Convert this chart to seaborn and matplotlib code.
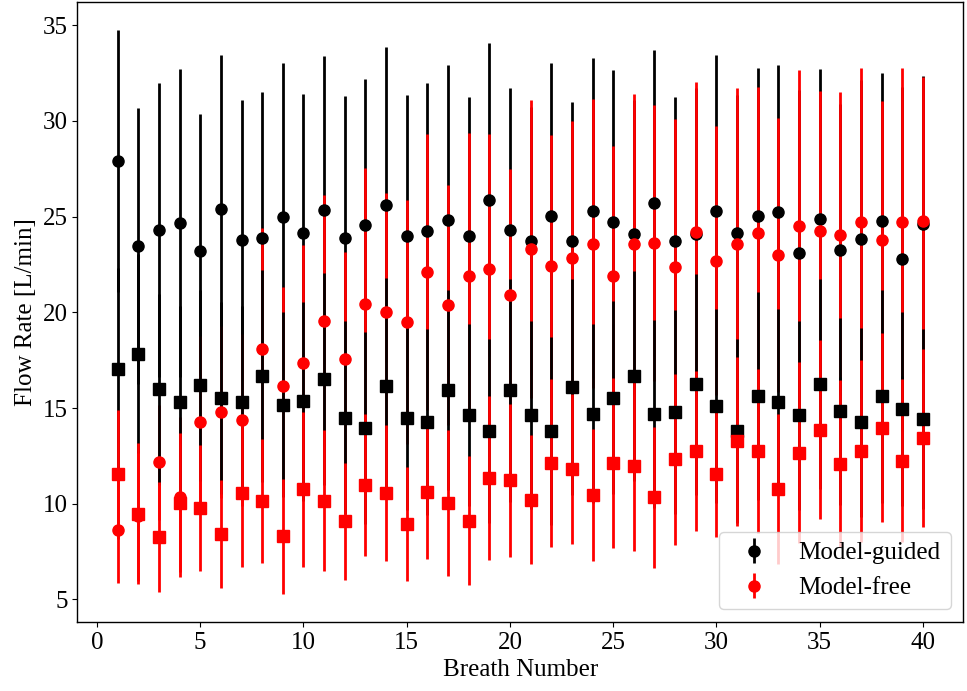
import matplotlib
matplotlib.use("Agg")
import matplotlib.pyplot as plt
import seaborn as sns

# breath index
breath = list(range(1, 41))

# model-guided, circles (mean and SD)
guided_circle = [27.90, 23.47, 24.29, 24.67, 23.23, 25.39, 23.77, 23.91, 24.97, 24.17,
                 25.35, 23.86, 24.57, 25.63, 24.01, 24.24, 24.80, 23.99, 25.89, 24.29,
                 23.75, 25.06, 23.73, 25.30, 24.72, 24.10, 25.72, 23.75, 24.12, 25.32,
                 24.15, 25.02, 25.23, 23.10, 24.90, 23.28, 23.84, 24.78, 22.79, 24.60]
guided_circle_sd = [6.84, 7.21, 7.67, 8.04, 7.14, 8.05, 7.35, 7.58, 8.05, 7.26,
                    8.03, 7.45, 7.61, 8.23, 7.35, 7.73, 8.10, 7.27, 8.16, 7.41,
                    7.00, 7.99, 7.28, 8.01, 7.93, 7.00, 8.01, 7.51, 7.60, 8.15,
                    7.20, 7.77, 7.68, 8.50, 7.84, 7.60, 8.30, 7.73, 9.00, 7.77]

# model-guided, squares
guided_square = [17.06, 17.84, 15.98, 15.31, 16.19, 15.52, 15.31, 16.66, 15.18, 15.35,
                 16.52, 14.50, 13.95, 16.17, 14.50, 14.27, 15.93, 14.65, 13.80, 15.93,
                 14.62, 13.80, 16.10, 14.71, 15.54, 16.66, 14.67, 14.79, 16.24, 15.11,
                 13.80, 15.63, 15.31, 14.62, 16.24, 14.84, 14.25, 15.61, 14.95, 14.45]
guided_square_sd = [5.24, 5.20, 5.00, 5.00, 5.00, 5.00, 5.00, 5.54, 4.84, 5.19,
                    5.54, 5.05, 5.02, 5.63, 4.80, 4.88, 5.22, 4.76, 4.83, 5.83,
                    4.91, 4.91, 5.63, 4.67, 5.04, 5.49, 4.91, 5.32, 5.79, 5.05,
                    4.83, 5.42, 4.85, 4.95, 5.49, 4.89, 4.95, 5.58, 5.07, 4.70]

# model-free, circles
free_circle = [8.61, 9.34, 12.16, 10.35, 14.27, 14.81, 14.36, 18.10, 16.15, 17.34,
               19.57, 17.58, 20.46, 20.00, 19.50, 22.11, 20.38, 21.88, 22.27, 20.89,
               23.30, 22.42, 22.86, 23.59, 21.90, 23.56, 23.63, 22.39, 24.22, 22.70,
               23.59, 24.13, 23.00, 24.53, 24.25, 24.06, 24.72, 23.78, 24.72, 24.76]
free_circle_sd = [2.74, 3.40, 3.00, 4.20, 4.50, 4.50, 4.50, 6.31, 5.18, 6.20,
                  6.55, 5.58, 7.09, 6.24, 6.36, 7.23, 6.26, 7.50, 7.06, 6.59,
                  7.78, 6.84, 7.13, 7.56, 6.80, 7.87, 7.19, 7.72, 7.82, 7.03,
                  8.14, 7.63, 7.18, 8.11, 7.31, 7.44, 8.04, 7.25, 8.07, 7.53]

# model-free, squares
free_square = [11.54, 9.48, 8.26, 10.05, 9.77, 8.41, 10.58, 10.14, 8.30, 10.75,
               10.16, 9.08, 11.00, 10.56, 8.94, 10.60, 10.03, 9.11, 11.34, 11.22,
               10.21, 12.14, 11.83, 10.47, 12.13, 11.95, 10.33, 12.32, 12.75, 11.53,
               13.26, 12.75, 10.79, 12.67, 13.87, 12.09, 12.74, 13.98, 12.25, 13.45]
free_square_sd = [3.36, 3.69, 2.87, 3.64, 3.28, 2.81, 3.90, 3.26, 3.00, 4.04,
                  3.67, 3.05, 3.71, 3.54, 2.98, 3.50, 3.80, 3.37, 4.30, 4.00,
                  3.36, 4.40, 3.92, 3.45, 4.46, 4.41, 3.68, 4.48, 4.17, 3.26,
                  4.41, 4.27, 3.92, 4.73, 4.67, 4.36, 4.75, 4.94, 4.25, 4.65]

sns.set_theme(style="ticks", rc={
    "axes.edgecolor": "black",
    "axes.labelcolor": "black",
    "axes.linewidth": 1.0,
    "text.color": "black",
    "xtick.color": "black",
    "ytick.color": "black",
    "xtick.major.size": 3.5,
    "ytick.major.size": 3.5,
    "xtick.major.width": 0.8,
    "ytick.major.width": 0.8,
    "lines.solid_capstyle": "butt",
})
plt.rcParams["font.family"] = ["Liberation Serif", "DejaVu Serif"]

fig, ax = plt.subplots(figsize=(9.67, 6.91), dpi=100)
fig.subplots_adjust(left=0.08, right=0.996, bottom=0.1, top=0.997)

# bars go in this order: guided circles, free circles, guided squares, free squares
ax.errorbar(breath, guided_circle, yerr=guided_circle_sd, fmt="o", color="black",
            ms=8, lw=2, label="Model-guided")
ax.errorbar(breath, free_circle, yerr=free_circle_sd, fmt="o", color="red",
            ms=8, lw=2, label="Model-free")
ax.errorbar(breath, guided_square, yerr=guided_square_sd, fmt="s", color="black",
            ms=8, lw=2)
ax.errorbar(breath, free_square, yerr=free_square_sd, fmt="s", color="red",
            ms=8, lw=2)

ax.set_xlabel("Breath Number", fontsize=18)
ax.set_ylabel("Flow Rate [L/min]", fontsize=18)
ax.tick_params(labelsize=18)
ax.legend(loc="lower right", fontsize=18)

fig.savefig("out.png", dpi=100)
